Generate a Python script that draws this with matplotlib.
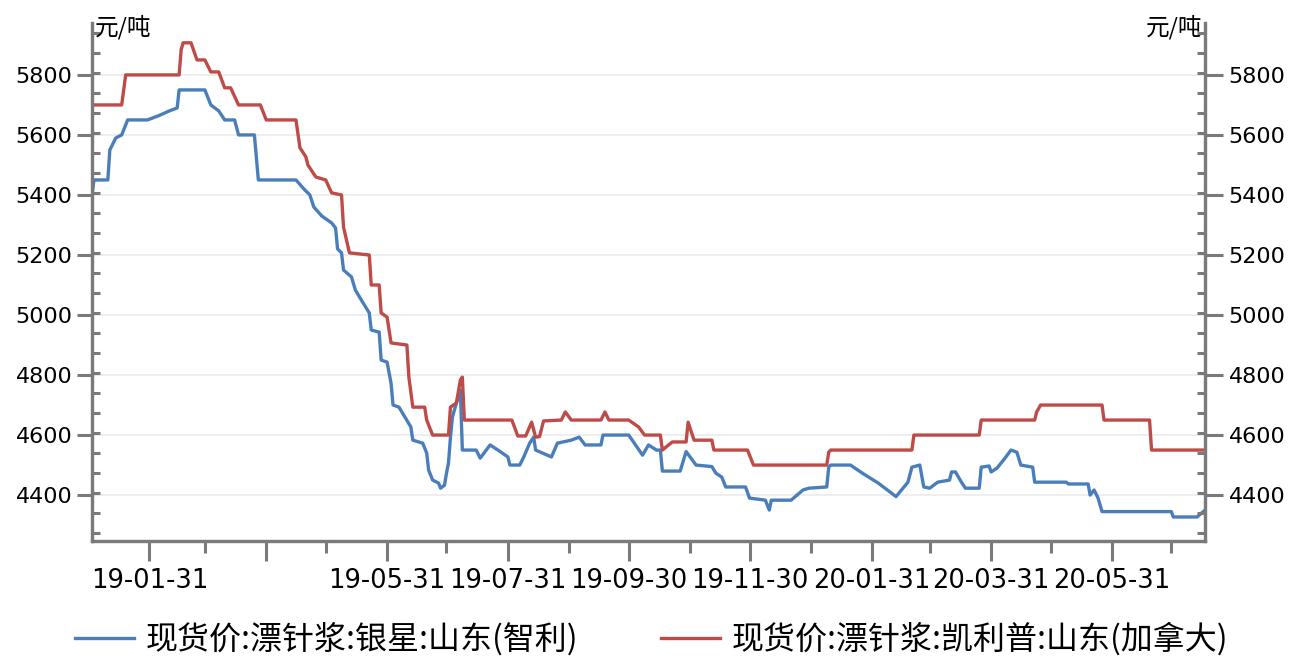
import matplotlib
matplotlib.use("Agg")
import matplotlib.pyplot as plt
import matplotlib.dates as mdates
import numpy as np
import pandas as pd

# 现货价:漂针浆:银星:山东(智利)
blue_dates = ["2019-01-02", "2019-01-03", "2019-01-10", "2019-01-11", "2019-01-14", "2019-01-17",
              "2019-01-20", "2019-01-30", "2019-02-05", "2019-02-10", "2019-02-14", "2019-02-15",
              "2019-02-28", "2019-03-03", "2019-03-07", "2019-03-10", "2019-03-15", "2019-03-17",
              "2019-03-25", "2019-03-27", "2019-04-15", "2019-04-19", "2019-04-22", "2019-04-24",
              "2019-04-28", "2019-05-03", "2019-05-05", "2019-05-06", "2019-05-08", "2019-05-09",
              "2019-05-13", "2019-05-15", "2019-05-18", "2019-05-22", "2019-05-23", "2019-05-27",
              "2019-05-28", "2019-05-31", "2019-06-02", "2019-06-03", "2019-06-06", "2019-06-09",
              "2019-06-12", "2019-06-13", "2019-06-18", "2019-06-20", "2019-06-21", "2019-06-23",
              "2019-06-26", "2019-06-27", "2019-06-29", "2019-06-30", "2019-07-01", "2019-07-02",
              "2019-07-03", "2019-07-04", "2019-07-05", "2019-07-07", "2019-07-08", "2019-07-15",
              "2019-07-17", "2019-07-22", "2019-07-26", "2019-07-31", "2019-08-01", "2019-08-06",
              "2019-08-08", "2019-08-11", "2019-08-13", "2019-08-14", "2019-08-22", "2019-08-25",
              "2019-09-01", "2019-09-05", "2019-09-08", "2019-09-16", "2019-09-17", "2019-09-30",
              "2019-10-07", "2019-10-10", "2019-10-14", "2019-10-16", "2019-10-17", "2019-10-26",
              "2019-10-29", "2019-11-03", "2019-11-11", "2019-11-13", "2019-11-16", "2019-11-18",
              "2019-11-28", "2019-11-30", "2019-12-08", "2019-12-10", "2019-12-11", "2019-12-21",
              "2019-12-27", "2019-12-30", "2020-01-08", "2020-01-09", "2020-01-10", "2020-01-20",
              "2020-01-26", "2020-02-03", "2020-02-12", "2020-02-18", "2020-02-20", "2020-02-24",
              "2020-02-26", "2020-02-29", "2020-03-04", "2020-03-10", "2020-03-11", "2020-03-13",
              "2020-03-16", "2020-03-18", "2020-03-25", "2020-03-26", "2020-03-30", "2020-03-31",
              "2020-04-03", "2020-04-07", "2020-04-10", "2020-04-13", "2020-04-15", "2020-04-21",
              "2020-04-22", "2020-05-08", "2020-05-09", "2020-05-19", "2020-05-20", "2020-05-22",
              "2020-05-24", "2020-05-26", "2020-06-30", "2020-07-01", "2020-07-13", "2020-07-17"]
blue_values = [5400, 5450, 5450, 5550, 5590, 5600,
               5650, 5650, 5665, 5680, 5690, 5750,
               5750, 5700, 5680, 5650, 5650, 5600,
               5600, 5450, 5450, 5420, 5400, 5360,
               5330, 5307, 5290, 5220, 5207, 5150,
               5127, 5083, 5050, 5007, 4950, 4943,
               4850, 4843, 4773, 4700, 4693, 4660,
               4627, 4583, 4573, 4540, 4483, 4450,
               4440, 4423, 4433, 4473, 4507, 4593,
               4660, 4683, 4707, 4750, 4550, 4550,
               4523, 4567, 4550, 4527, 4500, 4500,
               4527, 4573, 4593, 4550, 4527, 4573,
               4583, 4593, 4567, 4567, 4600, 4600,
               4533, 4567, 4550, 4550, 4480, 4480,
               4545, 4500, 4495, 4473, 4460, 4427,
               4427, 4390, 4383, 4350, 4383, 4383,
               4417, 4423, 4427, 4493, 4500, 4500,
               4473, 4440, 4395, 4443, 4493, 4500,
               4427, 4423, 4443, 4450, 4477, 4477,
               4443, 4423, 4423, 4493, 4497, 4477,
               4490, 4523, 4550, 4543, 4500, 4493,
               4443, 4443, 4437, 4437, 4400, 4417,
               4390, 4345, 4345, 4327, 4327, 4350]

# 现货价:漂针浆:凯利普:山东(加拿大)
red_dates = ["2019-01-02", "2019-01-17", "2019-01-19", "2019-02-15", "2019-02-16", "2019-02-17",
             "2019-02-21", "2019-02-24", "2019-02-28", "2019-03-03", "2019-03-07", "2019-03-10",
             "2019-03-13", "2019-03-17", "2019-03-28", "2019-03-31", "2019-04-15", "2019-04-17",
             "2019-04-20", "2019-04-21", "2019-04-25", "2019-04-30", "2019-05-03", "2019-05-08",
             "2019-05-09", "2019-05-12", "2019-05-22", "2019-05-23", "2019-05-27", "2019-05-28",
             "2019-05-31", "2019-06-02", "2019-06-10", "2019-06-11", "2019-06-13", "2019-06-19",
             "2019-06-20", "2019-06-23", "2019-07-01", "2019-07-02", "2019-07-05", "2019-07-07",
             "2019-07-08", "2019-07-09", "2019-08-02", "2019-08-05", "2019-08-09", "2019-08-12",
             "2019-08-14", "2019-08-16", "2019-08-18", "2019-08-27", "2019-08-29", "2019-09-01",
             "2019-09-16", "2019-09-18", "2019-09-20", "2019-09-30", "2019-10-05", "2019-10-08",
             "2019-10-16", "2019-10-17", "2019-10-22", "2019-10-29", "2019-10-30", "2019-11-02",
             "2019-11-11", "2019-11-12", "2019-11-29", "2019-12-02", "2020-01-08", "2020-01-09",
             "2020-01-10", "2020-02-20", "2020-02-21", "2020-03-25", "2020-03-26", "2020-04-22",
             "2020-04-23", "2020-04-25", "2020-05-26", "2020-05-27", "2020-06-19", "2020-06-20",
             "2020-07-17"]
red_values = [5700, 5700, 5800, 5800, 5883, 5907,
              5907, 5850, 5850, 5810, 5810, 5757,
              5757, 5700, 5700, 5650, 5650, 5557,
              5527, 5500, 5460, 5450, 5407, 5400,
              5293, 5207, 5200, 5100, 5100, 5007,
              4993, 4907, 4900, 4793, 4693, 4693,
              4650, 4600, 4600, 4693, 4707, 4783,
              4793, 4650, 4650, 4597, 4597, 4643,
              4593, 4595, 4647, 4650, 4677, 4650,
              4650, 4677, 4650, 4650, 4627, 4600,
              4600, 4550, 4577, 4577, 4643, 4583,
              4583, 4550, 4550, 4500, 4500, 4543,
              4550, 4550, 4600, 4600, 4650, 4650,
              4677, 4700, 4700, 4650, 4650, 4550,
              4550]

x_major = ["2019-01-31", "2019-03-31", "2019-05-31", "2019-07-31", "2019-09-30",
           "2019-11-30", "2020-01-31", "2020-03-31", "2020-05-31"]
x_labels = ["19-01-31", "", "19-05-31", "19-07-31", "19-09-30",
            "19-11-30", "20-01-31", "20-03-31", "20-05-31"]
x_minor = ["2019-02-28", "2019-04-30", "2019-06-30", "2019-08-31", "2019-10-31",
           "2019-12-31", "2020-02-29", "2020-04-30", "2020-06-30"]
y_ticks = [4400, 4600, 4800, 5000, 5200, 5400, 5600, 5800]

labels = ["现货价:漂针浆:银星:山东(智利)", "现货价:漂针浆:凯利普:山东(加拿大)"]
blue = "#4a7ebb"
red = "#be4b48"
axis_gray = "#7a7a7a"
cjk = ["Noto Sans CJK SC", "DejaVu Sans"]

plt.rcParams["font.family"] = ["DejaVu Sans", "Noto Sans CJK SC"]

fig = plt.figure(figsize=(12.95, 6.59), dpi=100)
ax = fig.add_axes([92 / 1295, 1 - 541 / 659, (1205 - 92) / 1295, (541 - 23) / 659])

ax.plot(pd.to_datetime(blue_dates), blue_values, color=blue, lw=2.4, label=labels[0])
ax.plot(pd.to_datetime(red_dates), red_values, color=red, lw=2.4, label=labels[1])

ax.set_xlim(pd.Timestamp("2019-01-02"), pd.Timestamp("2020-07-17"))
ax.set_ylim(4247, 5973)

ax.set_xticks(pd.to_datetime(x_major))
ax.set_xticklabels(x_labels)
ax.set_xticks(pd.to_datetime(x_minor), minor=True)
ax.set_yticks(y_ticks)
y_minor = np.arange(4273.3, 5973, 200 / 3)
ax.set_yticks(y_minor, minor=True)

ax.grid(axis="y", which="major", color="#ebebeb", lw=1.2)
ax.set_axisbelow(True)

for s in ["left", "bottom", "right"]:
    ax.spines[s].set_color(axis_gray)
    ax.spines[s].set_linewidth(2.3)
ax.spines["top"].set_visible(False)

ax.tick_params(axis="x", which="major", direction="out", length=14.5, width=2.2,
               color=axis_gray, labelsize=18.5, pad=5)
ax.tick_params(axis="x", which="minor", direction="out", length=8.5, width=2.2, color=axis_gray)
ax.tick_params(axis="y", which="major", direction="out", length=11, width=2.2,
               color=axis_gray, labelsize=16, pad=3)
ax.tick_params(axis="y", which="minor", direction="in", length=6, width=2.2, color=axis_gray)

ax2 = ax.twinx()
ax2.set_ylim(ax.get_ylim())
ax2.set_yticks(y_ticks)
ax2.set_yticks(y_minor, minor=True)
for s in ["left", "bottom", "right"]:
    ax2.spines[s].set_color(axis_gray)
    ax2.spines[s].set_linewidth(2.3)
ax2.spines["top"].set_visible(False)
ax2.tick_params(axis="y", which="major", direction="out", length=13, width=2.2,
                color=axis_gray, labelsize=16, pad=4)
ax2.tick_params(axis="y", which="minor", direction="in", length=6, width=2.2, color=axis_gray)

ax.annotate("元/吨", xy=(0, 1), xycoords="axes fraction", xytext=(2, -3),
            textcoords="offset points", ha="left", va="center", fontsize=17, family=cjk)
ax.annotate("元/吨", xy=(1, 1), xycoords="axes fraction", xytext=(-2, -3),
            textcoords="offset points", ha="right", va="center", fontsize=17, family=cjk)

fig.legend(loc="center", bbox_to_anchor=(0.503, 1 - 639 / 659), ncol=2, frameon=False,
           prop={"family": cjk, "size": 23}, handlelength=1.85, handletextpad=0.35,
           columnspacing=2.6)

fig.savefig("out.png", dpi=100)
